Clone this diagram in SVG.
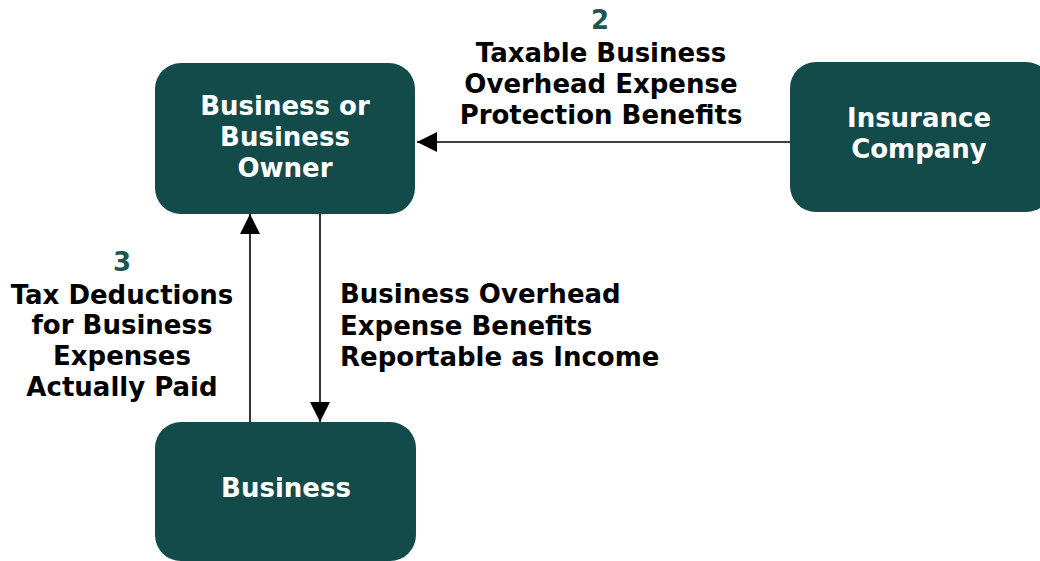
<svg xmlns="http://www.w3.org/2000/svg" width="1040" height="561" viewBox="0 0 1040 561">
  <style>
    .box { fill: #134a4a; }
    .nodetext { font-family: "DejaVu Sans", Verdana, sans-serif; font-weight: bold; font-size: 26px; fill: #ffffff; text-anchor: middle; }
    .label { font-family: "DejaVu Sans", Verdana, sans-serif; font-weight: bold; font-size: 26px; fill: #000000; }
    .num { fill: #1d5753; }
    .wire { stroke: #000000; stroke-width: 1.6; fill: none; }
  </style>
  <defs>
    <marker id="arrow" viewBox="0 0 10 10" refX="10" refY="5" markerWidth="20" markerHeight="20" markerUnits="userSpaceOnUse" orient="auto">
      <path d="M0,0 L10,5 L0,10 z" fill="#000000"/>
    </marker>
  </defs>
  <rect width="1040" height="561" fill="#ffffff"/>

  <!-- connectors -->
  <g id="connectors">
    <line class="wire" x1="790" y1="142" x2="417" y2="142" marker-end="url(#arrow)"/>
    <line class="wire" x1="250" y1="422" x2="250" y2="214" marker-end="url(#arrow)"/>
    <line class="wire" x1="320" y1="214" x2="320" y2="422" marker-end="url(#arrow)"/>
  </g>

  <!-- nodes -->
  <g id="owner">
    <rect class="box" x="155" y="63" width="260" height="151" rx="26"/>
    <text class="nodetext" x="285" y="115">Business or</text>
    <text class="nodetext" x="285" y="146">Business</text>
    <text class="nodetext" x="285" y="177">Owner</text>
  </g>
  <g id="insurer">
    <rect class="box" x="790" y="62" width="262" height="150" rx="26"/>
    <text class="nodetext" x="919" y="127">Insurance</text>
    <text class="nodetext" x="919" y="158">Company</text>
  </g>
  <g id="business">
    <rect class="box" x="155" y="422" width="261" height="139" rx="26"/>
    <text class="nodetext" x="286" y="497">Business</text>
  </g>

  <!-- flow labels -->
  <g id="label-benefits" class="label" text-anchor="middle">
    <text class="num" x="600" y="29">2</text>
    <text x="601" y="62">Taxable Business</text>
    <text x="601" y="93">Overhead Expense</text>
    <text x="601" y="124">Protection Benefits</text>
  </g>
  <g id="label-deductions" class="label" text-anchor="middle">
    <text class="num" x="122" y="271">3</text>
    <text x="122" y="304">Tax Deductions</text>
    <text x="122" y="334">for Business</text>
    <text x="122" y="365">Expenses</text>
    <text x="122" y="396">Actually Paid</text>
  </g>
  <g id="label-income" class="label">
    <text x="340" y="303">Business Overhead</text>
    <text x="340" y="335">Expense Benefits</text>
    <text x="340" y="366">Reportable as Income</text>
  </g>
</svg>
